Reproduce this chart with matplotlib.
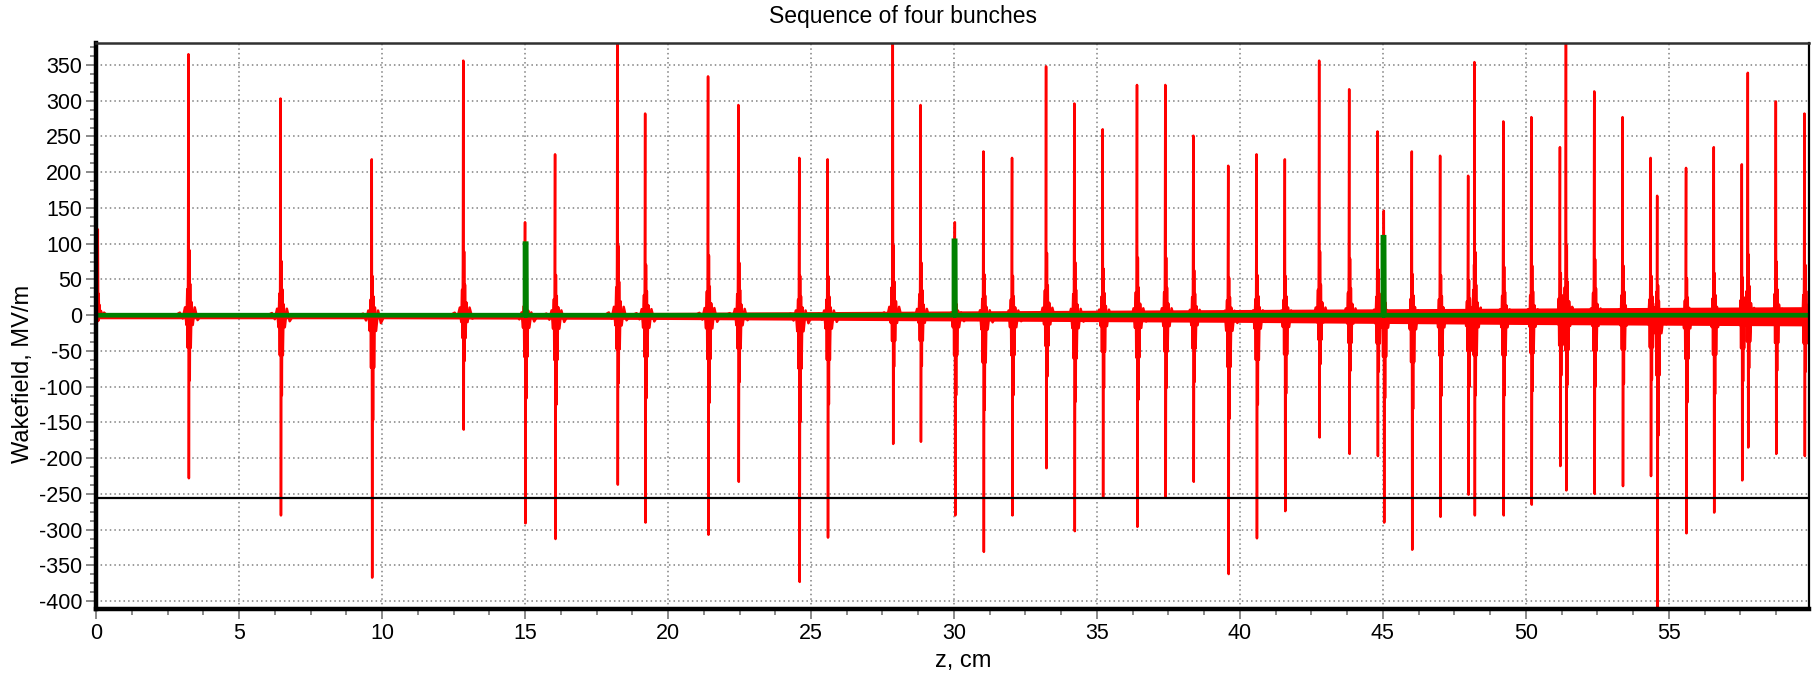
import numpy as np
import matplotlib
matplotlib.use("Agg")
import matplotlib.pyplot as plt
from matplotlib.ticker import MultipleLocator

plt.rcParams['font.family'] = ['Liberation Sans', 'DejaVu Sans']
plt.rcParams['axes.unicode_minus'] = False

# main wake spikes: position (cm), positive peak, negative peak (MV/m)
spike_z = [0.06, 3.23, 6.45, 9.64, 12.84, 15.0, 16.05, 18.23, 19.2, 21.4,
           22.46, 24.59, 25.58, 27.86, 28.83, 30.03, 31.03, 32.03, 33.22, 34.21,
           35.2, 36.4, 37.39, 38.37, 39.59, 40.58, 41.57, 42.77, 43.82, 44.81,
           45.03, 46.01, 47.0, 47.98, 48.2, 49.21, 50.19, 51.19, 51.4, 52.39,
           53.38, 54.36, 54.59, 55.6, 56.57, 57.55, 57.76, 58.74, 59.74]
spike_up = [120, 365, 303, 218, 356, 130, 225, 390, 282, 334,
            294, 220, 218, 390, 294, 130, 229, 220, 348, 296,
            260, 322, 322, 251, 209, 225, 218, 356, 316, 257,
            146, 229, 223, 195, 354, 271, 277, 235, 390, 313,
            277, 220, 167, 206, 235, 211, 339, 299, 282]
spike_down = [-8, -228, -280, -367, -160, -291, -313, -237, -290, -307,
              -233, -373, -311, -180, -177, -280, -331, -280, -214, -302,
              -254, -296, -254, -233, -362, -312, -274, -171, -194, -197,
              -290, -328, -282, -251, -280, -280, -265, -211, -245, -250,
              -239, -225, -420, -305, -276, -231, -185, -194, -197]

# typical shape of one spike with its ringing (offset cm, share of up / down peak)
shape_dz = [-0.45, -0.30, -0.20, -0.12, -0.07, -0.04, -0.025, -0.012, 0.0, 0.015,
            0.03, 0.045, 0.06, 0.08, 0.11, 0.15, 0.22, 0.32, 0.45]
shape_up = [0, 0.01, 0, 0.03, 0, 0.1, 0, 0.2, 1.0, 0,
            0.25, 0, 0.12, 0, 0.05, 0, 0.03, 0, 0]
shape_dn = [0, 0, 0.02, 0, 0.06, 0, 0.2, 0, 0, 1.0,
            0, 0.4, 0, 0.2, 0, 0.06, 0, 0.03, 0]

# width of the fast oscillation band around zero
band_z = [0, 10, 20, 30, 40, 50, 60]
band_hi = [3, 3, 4, 6, 8, 10, 12]
band_lo = [-5, -5, -6, -8, -10, -13, -15]

# drive bunches seen in the green curve (the one at z=0 sits under the axis)
bunch_z = [15.0, 30.0, 45.0]
bunch_h = [100, 104, 109]

cut_level = -256

zs, vs = [], []
for p, u, d in zip(spike_z, spike_up, spike_down):
    for dz, fu, fd in zip(shape_dz, shape_up, shape_dn):
        zs.append(p + dz)
        vs.append(fu * u + fd * d)
zs = np.array(zs)
vs = np.array(vs)
o = np.argsort(zs, kind='stable')
zs, vs = zs[o], vs[o]

gz, gv = [0.0], [0.0]
for b, h in zip(bunch_z, bunch_h):
    gz += [b, b, b + 0.04, b + 0.05]
    gv += [0, h, h, 0]
gz.append(60.0)
gv.append(0.0)

fig = plt.figure(figsize=(18.13, 6.76), dpi=100)
ax = fig.add_axes([0.053, 0.099, 0.9448, 0.8377])

ax.fill_between(band_z, band_lo, band_hi, color='#ff0000', lw=0, zorder=2)
ax.plot(zs, vs, color='#ff0000', lw=1.8, zorder=3)
ax.axhline(cut_level, color='black', lw=1.6, zorder=4)
ax.plot(gz, gv, color='#008000', lw=3.4, zorder=5, solid_joinstyle='miter')

ax.set_xlim(0, 59.9)
ax.set_ylim(-411, 381)
ax.set_xticks(np.arange(0, 60, 5))
ax.set_yticks(np.arange(-400, 351, 50))
ax.xaxis.set_minor_locator(MultipleLocator(1.25))
ax.yaxis.set_minor_locator(MultipleLocator(12.5))
ax.grid(True, which='major', color='#808080', lw=1.1, ls=(0, (1, 2)), zorder=1)
ax.set_axisbelow(True)

ax.tick_params(which='major', length=7, width=1.3, color='#808080', labelsize=15.5, pad=3)
ax.tick_params(which='minor', length=4, width=1.3, color='#808080')

for s in ['left', 'bottom']:
    ax.spines[s].set_linewidth(3.2)
    ax.spines[s].set_color('black')
ax.spines['top'].set_linewidth(1.8)
ax.spines['top'].set_color('#303030')
ax.spines['right'].set_linewidth(1.6)
ax.spines['right'].set_color('black')
for s in ax.spines.values():
    s.set_zorder(6)

ax.set_xlabel('z, cm', fontsize=17)
ax.set_ylabel('Wakefield, MV/m', fontsize=17)
ax.xaxis.set_label_coords(0.506, -0.072)
ax.yaxis.set_label_coords(-0.036, 0.416)
fig.text(0.498, 0.976, 'Sequence of four bunches', ha='center', va='center', fontsize=16.5)

fig.savefig('out.png', dpi=100)
